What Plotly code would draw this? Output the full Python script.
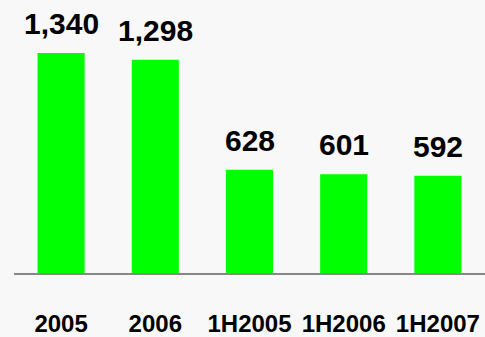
import plotly.graph_objects as go

categories = ["2005", "2006", "1H2005", "1H2006", "1H2007"]
values = [1340, 1298, 628, 601, 592]
value_labels = ["1,340", "1,298", "628", "601", "592"]

FONT = "Arial, Liberation Sans, sans-serif"
BG = "#F8F8F8"

fig = go.Figure(
    go.Bar(
        x=categories,
        y=values,
        marker=dict(color="#00FF00", line=dict(width=0)),
        hoverinfo="skip",
    )
)

# value labels above each bar; category axis positions are indices
for i, (val, lab) in enumerate(zip(values, value_labels)):
    fig.add_annotation(
        x=i, y=val, text=lab, showarrow=False,
        yanchor="bottom", yshift=11,
        font=dict(family=FONT, size=30, color="#000000", weight="bold"),
    )

fig.update_layout(
    width=485, height=337,
    margin=dict(l=14, r=0, t=0, b=58),
    paper_bgcolor=BG, plot_bgcolor=BG,
    bargap=0.5,
    showlegend=False,
)
fig.update_xaxes(
    type="category",
    categoryorder="array", categoryarray=categories,
    range=[-0.5, len(categories) - 0.5],
    showline=True, linecolor="#888888", linewidth=2,
    showgrid=False, zeroline=False, ticks="",
    tickangle=0,
    ticklabelstandoff=28,
    tickfont=dict(family=FONT, size=24, color="#000000", weight="bold"),
)
fig.update_yaxes(visible=False, range=[0, 1662], showgrid=False, zeroline=False)

fig.write_html("out.html")
